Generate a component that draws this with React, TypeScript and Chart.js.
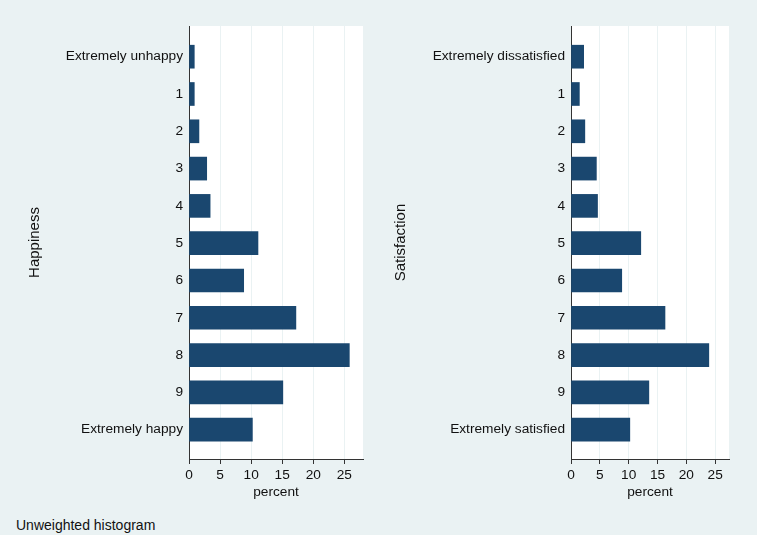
import React, { useEffect, useRef } from "react";
import { Chart, registerables } from "chart.js";

Chart.register(...registerables);

const HAPPY_LABELS = ["Extremely unhappy", "1", "2", "3", "4", "5", "6", "7", "8", "9", "Extremely happy"];
const HAPPY_VALUES = [0.85, 0.85, 1.6, 2.85, 3.4, 11.1, 8.8, 17.2, 25.8, 15.1, 10.2];

const SATIS_LABELS = ["Extremely dissatisfied", "1", "2", "3", "4", "5", "6", "7", "8", "9", "Extremely satisfied"];
const SATIS_VALUES = [2.2, 1.45, 2.4, 4.4, 4.6, 12.1, 8.8, 16.3, 23.9, 13.5, 10.2];

const X_TICK_STEP = 5;
const X_TITLE = "percent";
const FOOTNOTE = "Unweighted histogram";

const BG = "rgb(234,242,243)";
const BAR = "#1a476f";
const INK = "#111111";
const AXIS = "#333333";
const FONT = "'Liberation Sans', Arial, Helvetica, sans-serif";

const plotBg = {
  id: "plotBg",
  beforeDraw(chart: any) {
    const { ctx, chartArea } = chart;
    ctx.save();
    ctx.fillStyle = "#ffffff";
    ctx.fillRect(chartArea.left, chartArea.top, chartArea.right - chartArea.left, chartArea.bottom - chartArea.top);
    ctx.restore();
  },
};

type PanelProps = {
  labels: string[];
  values: number[];
  yTitle: string;
  xMax: number;
  left: number;
  width: number;
  yAxisWidth: number;
  padRight: number;
  titlePad: number;
};

function Panel(p: PanelProps) {
  const ref = useRef<HTMLCanvasElement | null>(null);
  useEffect(() => {
    if (!ref.current) return;
    const chart = new Chart(ref.current, {
      type: "bar",
      data: {
        datasets: [
          {
            data: p.values.map((v, i) => ({ x: v, y: i })),
            backgroundColor: BAR,
            borderColor: BAR,
            borderWidth: 0,
            barThickness: 23,
          },
        ],
      },
      options: {
        indexAxis: "y",
        responsive: false,
        animation: false,
        layout: { padding: { top: 26, right: p.padRight, bottom: 0, left: 0 } },
        plugins: { legend: { display: false }, tooltip: { enabled: false } },
        scales: {
          x: {
            type: "linear",
            min: 0,
            max: p.xMax,
            offset: false,
            ticks: {
              stepSize: X_TICK_STEP,
              includeBounds: false,
              padding: 3,
              color: INK,
              maxRotation: 0,
              font: { family: FONT, size: 13.7 },
            },
            grid: { color: BG, tickColor: AXIS, tickLength: 5, lineWidth: 1, offset: false },
            border: { color: AXIS, width: 1 },
            title: {
              display: true,
              text: X_TITLE,
              color: INK,
              font: { family: FONT, size: 13.7 },
              padding: { top: 0, bottom: 10 },
            },
            afterFit: (s: any) => {
              s.height = 51;
            },
          },
          y: {
            type: "linear",
            reverse: true,
            min: -0.823,
            max: 10.786,
            offset: false,
            ticks: {
              stepSize: 1,
              includeBounds: false,
              autoSkip: false,
              padding: 6,
              color: INK,
              font: { family: FONT, size: 13.7 },
              callback: (v: any) => {
                const i = Math.round(Number(v));
                return Math.abs(i - Number(v)) < 1e-6 && p.labels[i] !== undefined ? p.labels[i] : "";
              },
            },
            grid: { display: false, drawTicks: false, offset: false },
            border: { display: true, color: AXIS, width: 1 },
            title: {
              display: true,
              text: p.yTitle,
              color: INK,
              font: { family: FONT, size: 15 },
              padding: { top: p.titlePad, bottom: 0 },
            },
            afterFit: (s: any) => {
              s.width = p.yAxisWidth;
            },
          },
        },
      } as any,
      plugins: [plotBg],
    });
    return () => chart.destroy();
  }, []);
  return (
    <canvas
      ref={ref}
      width={p.width}
      height={510}
      style={{ position: "absolute", left: p.left, top: 0, width: p.width, height: 510 }}
    />
  );
}

export default function App() {
  return (
    <div
      style={{
        position: "absolute",
        left: 0,
        top: 0,
        width: 757,
        height: 535,
        background: BG,
        overflow: "hidden",
      }}
    >
      <Panel
        labels={HAPPY_LABELS}
        values={HAPPY_VALUES}
        yTitle="Happiness"
        xMax={28}
        left={0}
        width={380}
        yAxisWidth={189}
        padRight={17}
        titlePad={26}
      />
      <Panel
        labels={SATIS_LABELS}
        values={SATIS_VALUES}
        yTitle="Satisfaction"
        xMax={27.4}
        left={380}
        width={377}
        yAxisWidth={191}
        padRight={28}
        titlePad={12}
      />
      <div
        style={{
          position: "absolute",
          left: 16,
          top: 517,
          fontFamily: FONT,
          fontSize: 14,
          lineHeight: "16px",
          color: INK,
          whiteSpace: "nowrap",
        }}
      >
        {FOOTNOTE}
      </div>
    </div>
  );
}
